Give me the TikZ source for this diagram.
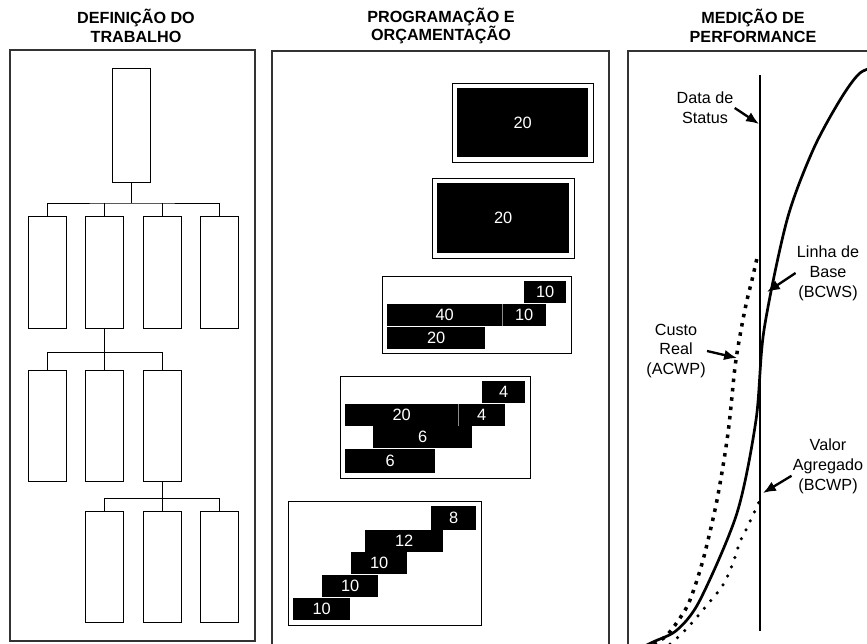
\documentclass[tikz,border=0pt]{standalone}
\usepackage{fontspec}
\setmainfont{Liberation Sans}
\usetikzlibrary{positioning,arrows.meta,fit}

\begin{document}
\begin{tikzpicture}[
    x=0.03cm, y=-0.03cm,
    node distance=0.56cm,
    panel/.style={draw=black!80, line width=0.9pt},
    title/.style={align=center, font=\fontsize{13.8}{16}\selectfont\bfseries},
    wbs/.style={draw, line width=0.7pt, minimum width=1.14cm, minimum height=3.33cm, inner sep=0pt},
    tree/.style={line width=0.7pt},
    bar/.style={fill=black, text=white, inner sep=0pt, anchor=north west,
        minimum height=0.66cm, font=\fontsize{14}{14}\selectfont},
    frame/.style={draw, line width=0.8pt, inner sep=4.25pt},
    lbl/.style={align=center, inner sep=1pt, font=\fontsize{13.8}{17}\selectfont},
    arrow/.style={-{Latex[length=11pt,width=9pt]}, line width=2pt}
    ]

    \useasboundingbox (0,0) rectangle (867,643);
    \clip (0,0) rectangle (867,643);

    % titles
    \node[title] (t1) at (136,26) {DEFINIÇÃO DO\\TRABALHO};
    \node[title] (t2) at (441,26) {PROGRAMAÇÃO E\\ORÇAMENTAÇÃO};
    \node[title] (t3) at (753,26) {MEDIÇÃO DE\\PERFORMANCE};

    % panels
    \draw[panel] (10,50) rectangle (255,641);
    \draw[panel] (272,51) rectangle (609,660);
    \draw[panel] (628,51) rectangle (890,660);

    % work breakdown
    \node[wbs, minimum height=3.42cm] (top) at (131,125) {};

    \node[wbs, minimum height=3.36cm] (a1) at (47,272) {};
    \node[wbs, minimum height=3.36cm, right=of a1] (a2) {};
    \node[wbs, minimum height=3.36cm, right=of a2] (a3) {};
    \node[wbs, minimum height=3.36cm, right=of a3] (a4) {};

    \node[wbs, below=1.26cm of a1] (b1) {};
    \node[wbs, right=of b1] (b2) {};
    \node[wbs, right=of b2] (b3) {};

    \node[wbs, below=0.87cm of b2] (c1) {};
    \node[wbs, right=of c1] (c2) {};
    \node[wbs, right=of c2] (c3) {};

    \coordinate (bus1) at (131,203);
    \draw[tree] (top.south) -- (bus1);
    \draw[tree] (a1.north) |- (bus1) -| (a4.north);
    \foreach \n in {a2,a3} \draw[tree] (\n.north) -- (\n.north |- bus1);

    \path (a2.south) ++(0,24) coordinate (bus2);
    \draw[tree] (a2.south) -- (bus2);
    \draw[tree] (b1.north) |- (bus2) -| (b3.north);
    \draw[tree] (b2.north) -- (b2.north |- bus2);

    \path (b3.south) ++(0,16) coordinate (bus3);
    \draw[tree] (b3.south) -- (bus3);
    \draw[tree] (c1.north) |- (bus3) -| (c3.north);
    \draw[tree] (c2.north) -- (c2.north |- bus3);

    % schedule bars
    \node[bar, minimum width=3.93cm, minimum height=2.07cm] (s1) at (457,88) {20};
    \node[frame, fit=(s1)] (f1) {};

    \node[bar, minimum width=3.96cm, minimum height=2.1cm] (s2) at (437,183) {20};
    \node[frame, fit=(s2)] (f2) {};

    \node[bar, minimum width=1.26cm] (s3a) at (524,281) {10};
    \node[bar, minimum width=3.45cm] (s3b) at (387,304) {40};
    \node[bar, minimum width=1.29cm, right=0pt of s3b] (s3c) {10};
    \node[bar, minimum width=2.94cm, below right=0pt of s3b.south west] (s3d) {20};
    \draw[black!45, line width=0.4pt] (s3b.north east) -- (s3b.south east);
    \node[frame, fit=(s3a)(s3b)(s3d)] (f3) {};

    \node[bar, minimum width=1.29cm] (s4a) at (482,381) {4};
    \node[bar, minimum width=3.39cm] (s4b) at (345,404) {20};
    \node[bar, minimum width=1.38cm, right=0pt of s4b] (s4c) {4};
    \node[bar, minimum width=2.97cm] (s4d) at (373,426) {6};
    \node[bar, minimum width=2.7cm, minimum height=0.72cm] (s4e) at (345,449) {6};
    \draw[black!45, line width=0.4pt] (s4b.north east) -- (s4b.south east);
    \node[frame, fit=(s4a)(s4b)(s4e)] (f4) {};

    \node[bar, minimum width=1.35cm, minimum height=0.72cm] (s5a) at (431,506) {8};
    \node[bar, minimum width=2.34cm] (s5b) at (365,530) {12};
    \node[bar, minimum width=1.68cm] (s5c) at (351,552) {10};
    \node[bar, minimum width=1.68cm] (s5d) at (322,575) {10};
    \node[bar, minimum width=1.71cm] (s5e) at (293,598) {10};
    \node[frame, fit=(s5a)(s5e)] (f5) {};

    % performance curves
    \draw[line width=1pt] (760,75) -- (760,631);

    \draw[line width=2.3pt] plot[smooth] coordinates {(628,654) (653,642) (677,630)
        (700,600) (737,513) (756,420) (764,330) (787,220) (813,150) (840,100)
        (860,73) (880,66)};
    \draw[line width=3pt, dash pattern=on 3pt off 5pt] plot[smooth] coordinates {
        (645,648) (665,637) (680,618) (690,600) (703,560) (717,500) (728,433)
        (735,367) (741,330) (747,300) (752,280) (757,258)};
    \draw[line width=3pt, line cap=round, dash pattern=on 0pt off 8.5pt] plot[smooth] coordinates {
        (662,650) (675,640) (690,625) (707,605) (723,585) (733,563) (740,542)
        (747,528) (752,517) (757,507) (760,499)};

    % labels
    \node[lbl] (lstat) at (705,108) {Data de\\Status};
    \node[lbl] (lbase) at (828,273) {Linha de\\Base\\(BCWS)};
    \node[lbl] (lcost) at (676,351) {Custo\\Real\\(ACWP)};
    \node[lbl] (lval) at (828,466) {Valor\\Agregado\\(BCWP)};

    \coordinate (pstat) at (759,124);
    \coordinate (pbase) at (767,292);
    \coordinate (pcost) at (737,358);
    \coordinate (pval) at (763,493);

    \draw[arrow] (lstat.east) -- (pstat);
    \draw[arrow] (lbase.west) -- (pbase);
    \draw[arrow] (lcost.east) -- (pcost);
    \draw[arrow] (lval.195) -- (pval);

\end{tikzpicture}
\end{document}
